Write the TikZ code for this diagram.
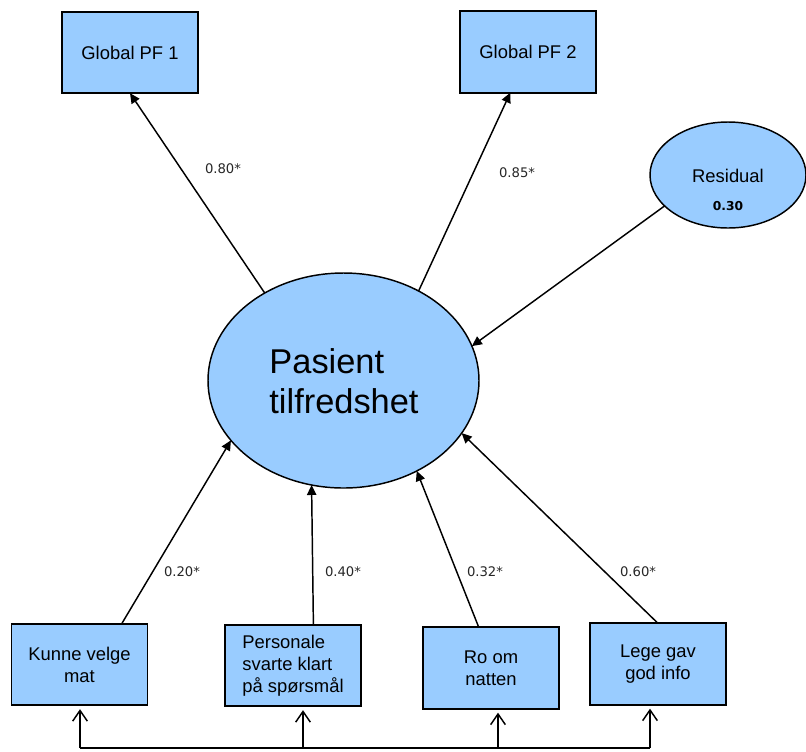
\documentclass[tikz,border=0pt]{standalone}
\usepackage{fontspec}
\setmainfont{Liberation Sans}
\newfontfamily\lblfont{DejaVu Sans}
\usetikzlibrary{arrows.meta,calc,shapes.geometric}
\definecolor{boxblue}{RGB}{153,204,255}
\begin{document}
\begin{tikzpicture}[x=0.75pt,y=-0.75pt,
  box/.style={draw, line width=1.4pt, fill=boxblue, inner sep=0pt, outer sep=0pt,
    minimum width=102pt, minimum height=61pt, align=center,
    font=\fontsize{13.8}{16.5}\selectfont},
  ellbox/.style={draw, line width=1.1pt, fill=boxblue, ellipse, inner sep=0pt, outer sep=0pt},
  lbl/.style={inner sep=0pt, text=black!85, font=\lblfont\fontsize{9.9}{11}\selectfont},
  arr/.style={line width=1.1pt, -{Triangle[length=7.5pt,width=7pt]}},
  openarr/.style={line width=1.1pt, -{Straight Barb[length=8pt,width=11pt]}, shorten >=3pt}
]
\useasboundingbox (0,0) rectangle (806,751);
% top boxes
\node[box] (pf1) at (130,52.5) {Global PF 1};
\node[box] (pf2) at (528,52) {Global PF 2};
% ellipses
\node[ellbox, minimum width=203.25pt, minimum height=161.25pt] (main) at (343.5,380.5) {};
\node[inner sep=0pt, align=left, font=\fontsize{25.8}{30}\selectfont] (maintxt) at (344,381) {Pasient\\tilfredshet};
\node[ellbox, minimum width=117pt, minimum height=79.5pt] (res) at (728,175) {};
\node[inner sep=0pt, font=\fontsize{13.8}{16}\selectfont] (restxt) at (728,176) {Residual};
\node[inner sep=0pt, font=\lblfont\bfseries\fontsize{9.2}{10}\selectfont] (resval) at (728,206) {0.30};
% bottom boxes
\node[box] (kunne) at (79.5,664.5) {Kunne velge\\mat};
\node[box, align=left] (pers) at (293,665.5) {Personale\\svarte klart\\på spørsmål};
\node[box] (ro) at (491,668) {Ro om\\natten};
\node[box] (lege) at (658,664) {Lege gav\\god info};
% connectors to top
\draw[arr] (main.132.6) -- (pf1.south);
\draw[arr] (main.50.5) -- ($(pf2.south west)!0.37!(pf2.south east)$);
\draw[arr] (res.206.6) -- (main.15.3);
% connectors from bottom
\draw[arr] ($(kunne.north west)!0.81!(kunne.north east)$) -- (main.208.9);
\draw[arr] ($(pers.north west)!0.65!(pers.north east)$) -- (main.253.1);
\draw[arr] ($(ro.north west)!0.41!(ro.north east)$) -- (main.309.9);
\draw[arr] (lege.north) -- (main.336.1);
% labels
\node[lbl] (l80) at (223,169) {0.80*};
\node[lbl] (l85) at (517,173) {0.85*};
\node[lbl] (l20) at (182,572) {0.20*};
\node[lbl] (l40) at (343,572) {0.40*};
\node[lbl] (l32) at (485,572) {0.32*};
\node[lbl] (l60) at (638,572) {0.60*};
% bottom correlation lines
\coordinate (b1) at (80,748);
\coordinate (b2) at (303,748);
\coordinate (b3) at (498,748);
\coordinate (b4) at (650,748);
\draw[line width=1.3pt] (b1) -- (b4);
\draw[openarr] (b1) -- (b1 |- kunne.south);
\draw[openarr] (b2) -- (b2 |- pers.south);
\draw[openarr] (b3) -- (b3 |- ro.south);
\draw[openarr] (b4) -- (b4 |- lege.south);
\end{tikzpicture}
\end{document}
